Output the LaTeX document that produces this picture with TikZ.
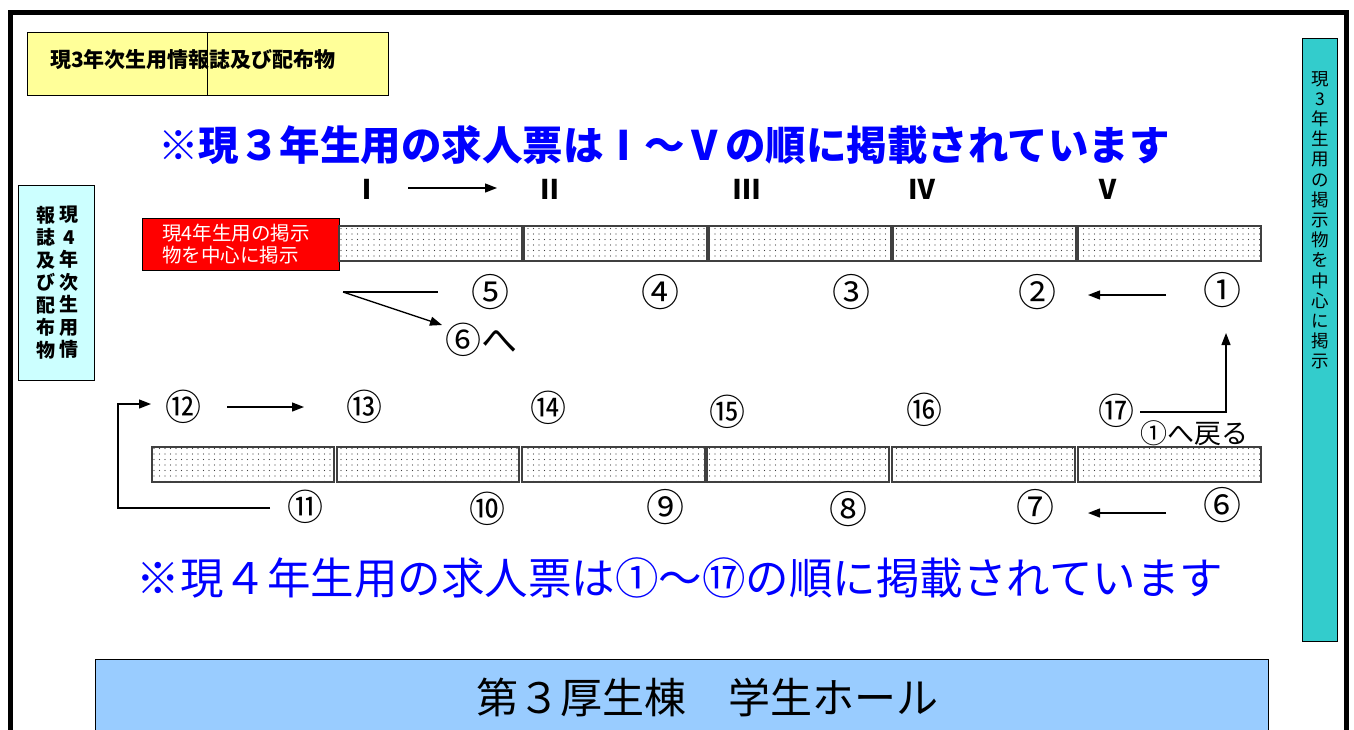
\documentclass[tikz,border=0pt]{standalone}
\usepackage{fontspec}
\newfontfamily\jp{Noto Sans CJK JP}
\usetikzlibrary{arrows.meta,patterns.meta}
\definecolor{yel}{HTML}{FFFF99}
\definecolor{cyanbox}{HTML}{CCFFFF}
\definecolor{tealbox}{HTML}{33CCCC}
\definecolor{hallblue}{HTML}{99CCFF}
\definecolor{headblue}{HTML}{0000FF}
\newcommand{\fs}[2]{\fontsize{#1}{#2}\selectfont}
\begin{document}
\begin{tikzpicture}[x=1pt,y=-1pt,
  every node/.style={font=\jp, inner sep=0pt},
  shelf/.style={draw=black!75, line width=1.3pt, pattern={Dots[distance=5.5pt,radius=0.6pt]}, pattern color=black!75},
  num/.style={font=\jp\fs{38}{38}},
  numb/.style={font=\jp\fs{36}{36}},
  arr/.style={line width=1.3pt, -{Triangle[length=12pt,width=9pt]}},
  ln/.style={line width=1.3pt}]
\useasboundingbox (0,0) rectangle (1354,729);
\fill[white] (0,0) rectangle (1354,729);
\begin{scope}
\clip (0,0) rectangle (1354,729);
% outer frame
\draw[line width=5pt] (10,760) -- (10,12) -- (1346,12) -- (1346,760);
% bottom hall box
\node[draw, line width=1.3pt, fill=hallblue, minimum width=1173pt, minimum height=90pt, anchor=north west] (hall) at (95,659) {};
\end{scope}
\node[font=\jp\fs{42}{42}] (halltxt) at (707,697) {第３厚生棟　学生ホール};

% yellow title box
\draw[line width=1pt, fill=yel] (27,32) rectangle (388,95);
\draw[line width=1pt] (207,32) -- (207,95);
\node[font=\jp\bfseries\fs{21}{21}] (ytitle) at (193,60) {現3年次生用情報誌及び配布物};

% heading 1
\node[font=\jp\bfseries\fs{40.5}{40.5}, text=headblue] (head1) at (664,145) {※現３年生用の求人票はⅠ～Ⅴの順に掲載されています};

% roman numerals
\tikzset{roman/.style={font=\jp\bfseries\fs{27}{27}}}
\node[roman] (r1) at (367,189) {Ⅰ};
\node[roman] (r2) at (550,189) {Ⅱ};
\node[roman] (r3) at (747,189) {Ⅲ};
\node[roman] (r4) at (922,189) {Ⅳ};
\node[roman] (r5) at (1108,189) {Ⅴ};
\coordinate (ra) at (408,188);
\coordinate (rb) at (497,188);
\draw[arr] (ra) -- (rb);

% left cyan box
\draw[line width=1pt, fill=cyanbox] (18,185) rectangle (94,380);
\node[font=\jp\bfseries\fs{19}{22.5}, align=center, anchor=north] (lc2) at (69,206) {現\\4\\年\\次\\生\\用\\情};
\node[font=\jp\bfseries\fs{19}{22.5}, align=center, anchor=north] (lc1) at (46,206) {報\\誌\\及\\び\\配\\布\\物};

% right teal box
\draw[line width=1pt, fill=tealbox] (1302,38) rectangle (1337,641);
\node[font=\jp\fs{17.5}{20.2}, align=center, anchor=north] (rt) at (1320,71) {現\\3\\年\\生\\用\\の\\掲\\示\\物\\を\\中\\心\\に\\掲\\示};

% red box
\node[draw, line width=1pt, fill=red, minimum width=197pt, minimum height=52pt, anchor=north west] (redbox) at (142,218) {};
\node[font=\jp\fs{19.5}{22}, text=white, align=left, anchor=west] (redtxt) at (162,244) {現4年生用の掲示\\物を中心に掲示};

% top shelves
\draw[shelf] (339,226) rectangle (522,261);
\draw[shelf] (524,226) rectangle (707,261);
\draw[shelf] (709,226) rectangle (891,261);
\draw[shelf] (893,226) rectangle (1076,261);
\draw[shelf] (1078,226) rectangle (1261,261);

% bottom shelves
\draw[shelf] (152,447) rectangle (334,482);
\draw[shelf] (337,447) rectangle (519,482);
\draw[shelf] (522,447) rectangle (705,482);
\draw[shelf] (707,447) rectangle (889,482);
\draw[shelf] (892,447) rectangle (1075,482);
\draw[shelf] (1078,447) rectangle (1261,482);

% top numbers
\node[num] (n5) at (490,292) {⑤};
\node[num] (n4) at (660,292) {④};
\node[num] (n3) at (851,292) {③};
\node[num] (n2) at (1037,292) {②};
\node[num] (n1) at (1222,290) {①};
\coordinate (t1a) at (1166,295);
\coordinate (t1b) at (1088,295);
\draw[arr] (t1a) -- (t1b);

% branch to 6
\coordinate (bs) at (343,292);
\coordinate (be) at (438,292);
\coordinate (bt) at (442,325);
\draw[ln] (bs) -- (be);
\draw[arr] (bs) -- (bt);
\node[font=\jp\fs{36}{36}] (to6) at (481,340) {⑥へ};

% bottom upper numbers
\node[numb] (n12) at (183,407) {⑫};
\node[numb] (n13) at (364,407) {⑬};
\node[numb] (n14) at (548,408) {⑭};
\node[numb] (n15) at (727,412) {⑮};
\node[numb] (n16) at (924,410) {⑯};
\node[numb] (n17) at (1116,411) {⑰};
\coordinate (a12) at (227,407);
\coordinate (b12) at (304,407);
\draw[arr] (a12) -- (b12);

% return to 1
\coordinate (r17a) at (1140,412);
\coordinate (r17b) at (1226,412);
\coordinate (r17c) at (1226,333);
\draw[arr] (r17a) -- (r17b) -- (r17c);
\node[font=\jp\fs{27}{27}] (back1) at (1194,433) {①へ戻る};

% bottom lower numbers
\node[numb] (n11) at (305,507) {⑪};
\node[numb] (n10) at (487,509) {⑩};
\node[num] (n9) at (665,507) {⑨};
\node[num] (n8) at (848,509) {⑧};
\node[num] (n7) at (1035,507) {⑦};
\node[num] (n6) at (1222,505) {⑥};
\coordinate (b7a) at (1166,513);
\coordinate (b7b) at (1088,513);
\draw[arr] (b7a) -- (b7b);

% loop 11 -> 12
\coordinate (l1) at (270,508);
\coordinate (l2) at (118,508);
\coordinate (l3) at (118,404);
\coordinate (l4) at (151,404);
\draw[arr] (l1) -- (l2) -- (l3) -- (l4);

% heading 2
\node[font=\jp\fs{43.5}{43.5}, text=headblue] (head2) at (680,578) {※現４年生用の求人票は①～⑰の順に掲載されています};
\end{tikzpicture}
\end{document}
